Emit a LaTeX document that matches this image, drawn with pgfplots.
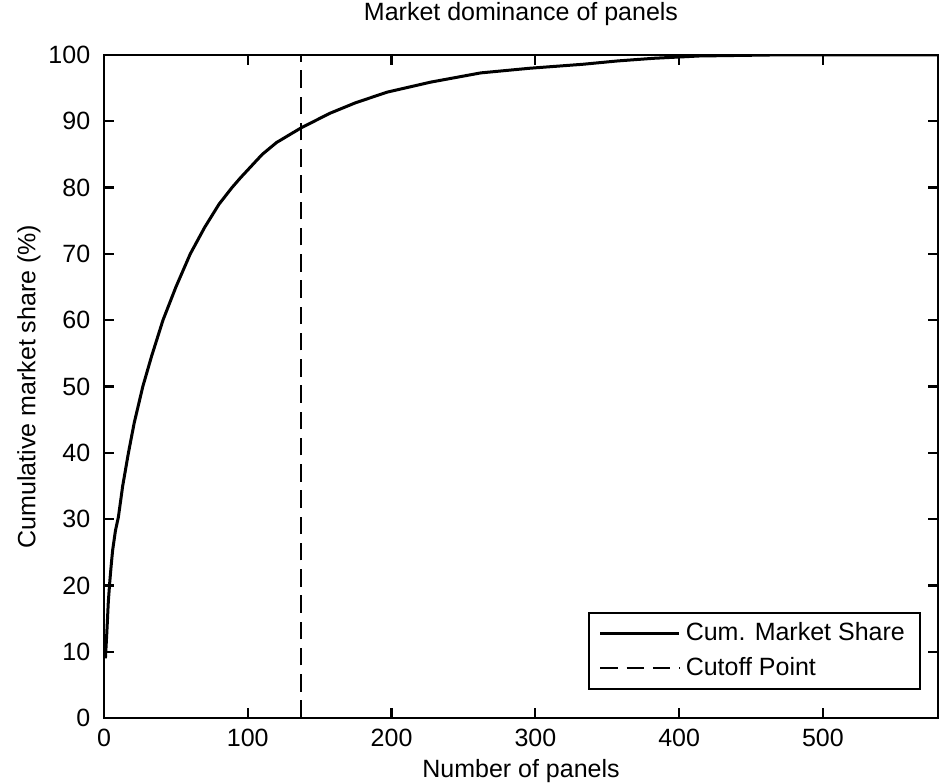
\documentclass[border=0pt]{standalone}
\usepackage{fontspec}
\setmainfont{Liberation Sans}
\usepackage{pgfplots}
\pgfplotsset{compat=1.18}
\begin{document}
\begin{tikzpicture}
\begin{axis}[
  name=ax,
  at={(0,0)}, anchor=south west,
  scale only axis,
  width=333.6pt, height=265.2pt,
  xmin=0, xmax=580, ymin=0, ymax=100,
  xtick={0,100,200,300,400,500},
  ytick={0,10,20,30,40,50,60,70,80,90,100},
  tick align=inside,
  major tick length=4pt,
  axis line style={line width=0.9pt},
  every tick/.style={black, line width=0.9pt},
  /pgf/number format/assume math mode=true,
  font=\fontsize{10}{12}\selectfont,
  ticklabel style={font=\fontsize{10}{12}\selectfont},
  yticklabel style={xshift=-2pt},
  xticklabel style={yshift=-1pt},
  title={Market dominance of panels},
  title style={at={(axis description cs:0.5,1.0287)}, anchor=base, font=\fontsize{10}{12}\selectfont},
  xlabel={Number of panels},
  xlabel style={at={(axis description cs:0.5,-0.0905)}, anchor=base, font=\fontsize{10}{12}\selectfont},
  ylabel={Cumulative market share (\%)},
  ylabel style={at={(axis description cs:-0.09,0.5)}, anchor=center, font=\fontsize{10}{12}\selectfont},
  legend style={at={(axis description cs:0.9796,0.0422)}, anchor=south east, draw=black, line width=0.9pt, font=\fontsize{10}{12}\selectfont, inner xsep=4pt, inner ysep=2pt, row sep=1pt},
  legend cell align=left,
  legend image code/.code={\draw[#1] (0pt,0pt) -- (31.6pt,0pt);},
]
\addplot[black, line width=1.2pt] coordinates {
(1,9) (2,13) (3,17.5) (4,20.5) (5,23) (6,25.3) (8,28.3) (10,30.3) (13,35) (17,40)
(21,44.5) (27,50) (33,54.5) (41,60) (50,65) (60,70) (70,74) (80,77.5) (89,80)
(95,81.5) (110,85) (120,86.8) (137,89) (157,91.2) (175,92.8) (197,94.4) (227,95.9)
(262,97.3) (296,98.0) (333,98.6) (357,99.1) (382,99.5) (414,99.85) (463,100) (580,100)
};
\addlegendentry{Cum. Market Share}
\addplot[black, line width=1pt, dash pattern=on 7pt off 3.5pt] coordinates {(137,0) (137,100)};
\addlegendentry{Cutoff Point}
\end{axis}
\pgfresetboundingbox
\path[use as bounding box] (-41.6pt,-26.4pt) rectangle (334pt,287.2pt);
\end{tikzpicture}
\end{document}
